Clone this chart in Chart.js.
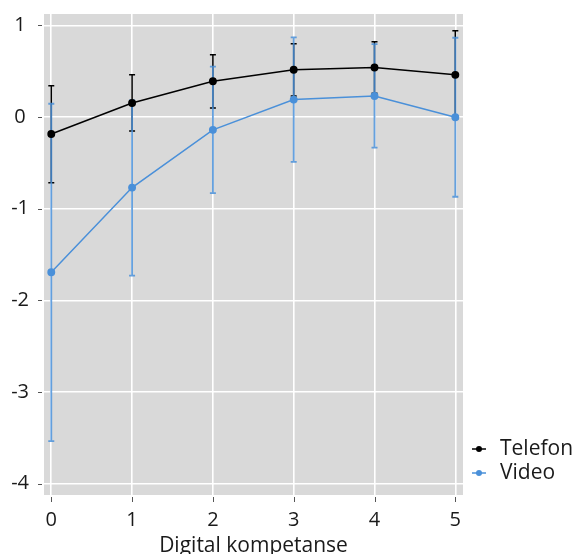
<!DOCTYPE html>
<html>
<head>
<meta charset="utf-8">
<script src="https://cdn.jsdelivr.net/npm/chart.js@4/dist/chart.umd.min.js"></script>
<style>
  html, body { margin: 0; padding: 0; background: #fff; }
  #wrap { width: 574px; height: 554px; }
</style>
</head>
<body>
<div id="wrap"><canvas id="chart" width="574" height="554"></canvas></div>
<script>
// Mean effect with confidence interval, per level of digital competence
var competence = [0, 1, 2, 3, 4, 5];
var xTicks = [0, 1, 2, 3, 4, 5];
var yTicks = [-4, -3, -2, -1, 0, 1];

var phoneMean = [-0.185, 0.153, 0.39, 0.516, 0.54, 0.46];
var phoneLow = [-0.716, -0.153, 0.098, 0.23, 0.26, -0.02];
var phoneHigh = [0.341, 0.46, 0.68, 0.80, 0.82, 0.94];

var videoMean = [-1.694, -0.77, -0.14, 0.19, 0.23, -0.003];
var videoLow = [-3.537, -1.73, -0.83, -0.49, -0.335, -0.87];
var videoHigh = [0.145, 0.18, 0.55, 0.87, 0.795, 0.865];

var seriesNames = ['Telefon', 'Video'];
var xTitle = 'Digital kompetanse';

var FONT = "'Open Sans', 'Noto Sans', sans-serif";
var PANEL = '#d9d9d9';
var BLUE = '#4a90d9';

function points(ys) {
  return competence.map(function (x, i) { return { x: x, y: ys[i] }; });
}

// Grey plotting panel behind the grid
var panelPlugin = {
  id: 'panel',
  beforeDraw: function (chart) {
    var ctx = chart.ctx, a = chart.chartArea;
    ctx.save();
    ctx.fillStyle = '#fff';
    ctx.fillRect(0, 0, chart.width, chart.height);
    ctx.fillStyle = PANEL;
    ctx.fillRect(a.left, a.top, a.right - a.left, a.bottom - a.top);
    ctx.restore();
  }
};

// Short tick marks set slightly apart from the panel
var tickMarkPlugin = {
  id: 'tickMarks',
  afterDraw: function (chart) {
    var ctx = chart.ctx, a = chart.chartArea;
    var xs = chart.scales.x, ys = chart.scales.y;
    ctx.save();
    ctx.strokeStyle = '#555';
    ctx.lineWidth = 1;
    ys.ticks.forEach(function (t) {
      var py = Math.round(ys.getPixelForValue(t.value)) + 0.5;
      ctx.beginPath();
      ctx.moveTo(a.left - 6, py);
      ctx.lineTo(a.left - 2, py);
      ctx.stroke();
    });
    xs.ticks.forEach(function (t) {
      var px = Math.round(xs.getPixelForValue(t.value)) + 0.5;
      ctx.beginPath();
      ctx.moveTo(px, a.bottom + 2);
      ctx.lineTo(px, a.bottom + 7);
      ctx.stroke();
    });
    ctx.restore();
  }
};

// Vertical interval bars with caps, drawn under the lines
var errorBarPlugin = {
  id: 'errorBars',
  beforeDatasetsDraw: function (chart) {
    var ctx = chart.ctx;
    var xs = chart.scales.x, ys = chart.scales.y;
    ctx.save();
    chart.data.datasets.forEach(function (ds) {
      ctx.strokeStyle = ds.errColor;
      ctx.lineWidth = ds.errWidth;
      competence.forEach(function (x, i) {
        var px = xs.getPixelForValue(x);
        var lo = ys.getPixelForValue(ds.errLow[i]);
        var hi = ys.getPixelForValue(ds.errHigh[i]);
        ctx.beginPath();
        ctx.moveTo(px, lo);
        ctx.lineTo(px, hi);
        ctx.moveTo(px - 3, lo);
        ctx.lineTo(px + 3, lo);
        ctx.moveTo(px - 3, hi);
        ctx.lineTo(px + 3, hi);
        ctx.stroke();
      });
    });
    ctx.restore();
  }
};

// Legend to the right of the panel, aligned with its bottom
var legendPlugin = {
  id: 'sideLegend',
  afterDraw: function (chart) {
    var ctx = chart.ctx, a = chart.chartArea;
    ctx.save();
    ctx.font = '21px ' + FONT;
    ctx.textBaseline = 'middle';
    ctx.textAlign = 'left';
    chart.data.datasets.forEach(function (ds, i) {
      var y = a.bottom - 46 + i * 24;
      var x0 = a.right + 9;
      ctx.strokeStyle = ds.borderColor;
      ctx.fillStyle = ds.borderColor;
      ctx.lineWidth = 1.5;
      ctx.beginPath();
      ctx.moveTo(x0, y);
      ctx.lineTo(x0 + 14, y);
      ctx.stroke();
      ctx.beginPath();
      ctx.arc(x0 + 7, y, 3, 0, Math.PI * 2);
      ctx.fill();
      ctx.fillStyle = '#1a1a1a';
      ctx.fillText(ds.label, x0 + 28, y);
    });
    ctx.restore();
  }
};

new Chart(document.getElementById('chart'), {
  type: 'line',
  data: {
    datasets: [
      {
        label: seriesNames[0],
        data: points(phoneMean),
        errLow: phoneLow,
        errHigh: phoneHigh,
        errWidth: 1.5,
        errColor: '#000',
        borderColor: '#000',
        backgroundColor: '#000',
        borderWidth: 1.5,
        pointRadius: 3.2,
        tension: 0
      },
      {
        label: seriesNames[1],
        data: points(videoMean),
        errLow: videoLow,
        errHigh: videoHigh,
        errWidth: 1.8,
        errColor: 'rgba(74, 144, 217, 0.85)',
        borderColor: BLUE,
        backgroundColor: BLUE,
        borderWidth: 1.5,
        pointRadius: 3.2,
        tension: 0
      }
    ]
  },
  options: {
    responsive: false,
    animation: false,
    layout: { padding: { left: 0, top: 14, right: 111, bottom: 0 } },
    plugins: {
      legend: { display: false },
      tooltip: { enabled: false }
    },
    scales: {
      x: {
        type: 'linear',
        min: -0.09,
        max: 5.095,
        afterFit: function (s) {
          s.height = 59;
          s.paddingLeft = 0;
          s.paddingRight = 0;
        },
        afterBuildTicks: function (s) {
          s.ticks = xTicks.map(function (v) { return { value: v }; });
        },
        grid: { color: '#fff', lineWidth: 1.6, drawTicks: false },
        border: { display: false },
        ticks: {
          padding: 13,
          maxRotation: 0,
          color: '#1a1a1a',
          font: { family: FONT, size: 20 }
        },
        title: {
          display: true,
          text: xTitle,
          color: '#1a1a1a',
          padding: { top: 0, bottom: 0 },
          font: { family: FONT, size: 21, lineHeight: 0.75 }
        }
      },
      y: {
        type: 'linear',
        min: -4.124,
        max: 1.124,
        afterFit: function (s) {
          s.width = 44;
          s.paddingTop = 0;
          s.paddingBottom = 0;
        },
        afterBuildTicks: function (s) {
          s.ticks = yTicks.map(function (v) { return { value: v }; });
        },
        grid: { color: '#fff', lineWidth: 1.6, drawTicks: false },
        border: { display: false },
        ticks: {
          padding: 15,
          crossAlign: 'center',
          color: '#1a1a1a',
          font: { family: FONT, size: 20 }
        }
      }
    }
  },
  plugins: [panelPlugin, errorBarPlugin, tickMarkPlugin, legendPlugin]
});
</script>
</body>
</html>
